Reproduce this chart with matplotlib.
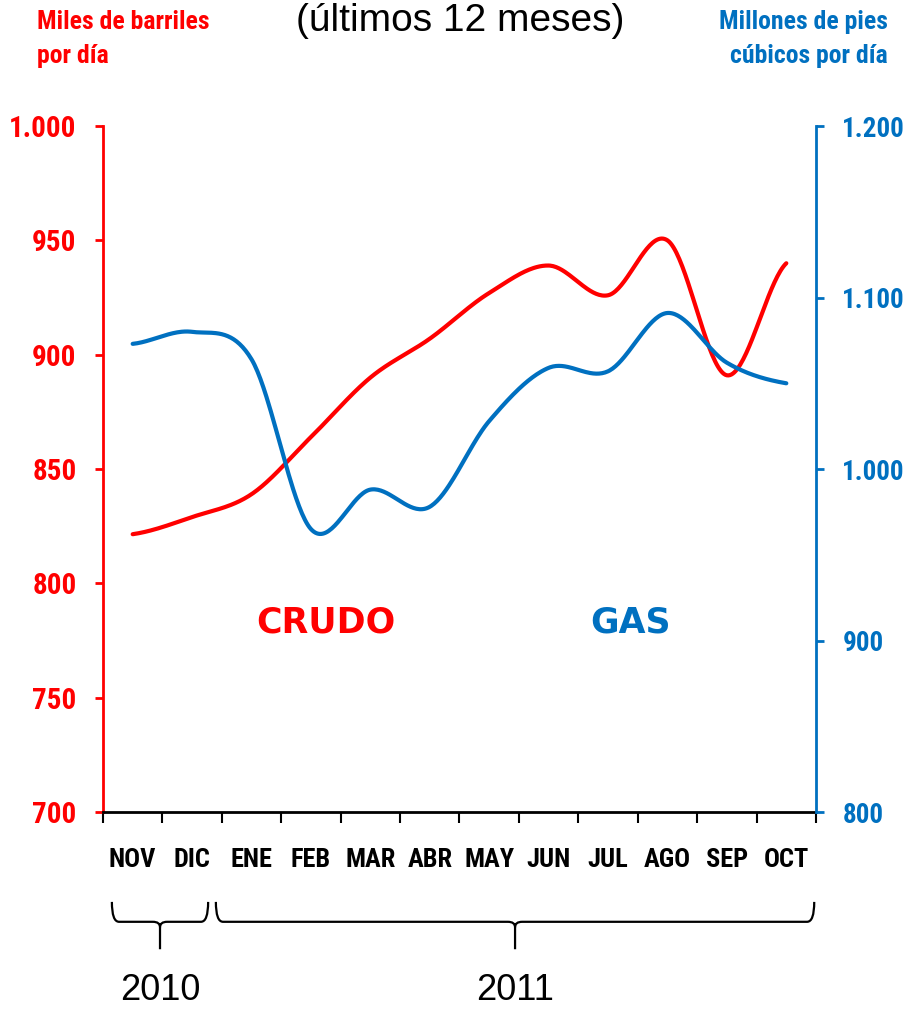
import numpy as np
import matplotlib.pyplot as plt
from matplotlib import font_manager
from matplotlib.path import Path
from matplotlib.patches import PathPatch
from matplotlib.ticker import FuncFormatter, FixedLocator
import matplotlib.transforms as mtransforms

meses = ['NOV', 'DIC', 'ENE', 'FEB', 'MAR', 'ABR', 'MAY', 'JUN', 'JUL', 'AGO', 'SEP', 'OCT']
crudo = [821.5, 829, 839, 864, 890, 907, 927, 939, 926, 950, 891, 940]   # miles de barriles por dia
gas = [1073, 1080, 1064, 965, 988, 978, 1028, 1059, 1057, 1091, 1062, 1050]  # millones de pies cubicos por dia
anios = ['2010', '2011']
meses_por_anio = [2, 10]

ROJO = '#FF0000'
AZUL = '#0070C0'


def fuente_estrecha():
    # busca una fuente estrecha en negrita; si no hay, Liberation Sans un poco mas chica
    fuentes = font_manager.fontManager.ttflist
    nombres = {f.name for f in fuentes}
    for nombre in ['Liberation Sans Narrow', 'Arial Narrow', 'Roboto Condensed',
                   'Open Sans Condensed', 'DejaVu Sans Condensed']:
        if nombre in nombres:
            return {'family': nombre}, 1.0
    for f in fuentes:
        if f.stretch in ('condensed', 'semi-condensed') and f.weight in ('bold', 700):
            return {'family': f.name, 'stretch': f.stretch}, 1.0
    return {'family': 'Liberation Sans'}, 0.87


ESTRECHA, ESC = fuente_estrecha()


def estrecha(size):
    d = dict(ESTRECHA)
    d['size'] = size * ESC
    d['weight'] = 'bold'
    return d


def suavizar(y, n=40):
    # curva tipo Catmull-Rom, como la linea suavizada de Excel
    y = np.asarray(y, float)
    yp = np.concatenate([[y[0]], y, [y[-1]]])
    xs, ys = [], []
    for i in range(len(y) - 1):
        p1, p2 = yp[i + 1], yp[i + 2]
        m1 = (yp[i + 2] - yp[i]) / 2
        m2 = (yp[i + 3] - yp[i + 1]) / 2
        t = np.linspace(0, 1, n, endpoint=False)
        h = ((2*t**3 - 3*t**2 + 1) * p1 + (t**3 - 2*t**2 + t) * m1
             + (-2*t**3 + 3*t**2) * p2 + (t**3 - t**2) * m2)
        xs.append(i + 0.5 + t)
        ys.append(h)
    xs.append([len(y) - 0.5])
    ys.append([y[-1]])
    return np.concatenate(xs), np.concatenate(ys)


def miles(v, pos):
    return f'{v:,.0f}'.replace(',', '.')


fig = plt.figure(figsize=(9.08, 10.10), dpi=100)
ax = fig.add_axes([0.1134, 0.196, 0.7853, 0.6792])
ax2 = ax.twinx()

xc, yc = suavizar(crudo)
xg, yg = suavizar(gas)
ax.plot(xc, yc, color=ROJO, lw=3, solid_capstyle='round', zorder=3)
ax2.plot(xg, yg, color=AZUL, lw=3, solid_capstyle='round', zorder=3)

ax.set_xlim(0, len(meses))
ax.set_ylim(700, 1000)
ax2.set_ylim(800, 1200)
ax.set_yticks(np.arange(700, 1001, 50))
ax2.set_yticks(np.arange(800, 1201, 100))

# ticks en los limites de cada mes, etiquetas al centro
ax.xaxis.set_major_locator(FixedLocator(np.arange(0, len(meses) + 1)))
ax.xaxis.set_minor_locator(FixedLocator(np.arange(len(meses)) + 0.5))
ax.set_xticklabels([])
ax.set_xticklabels(meses, minor=True, fontdict=estrecha(19))
ax.tick_params(axis='x', which='major', direction='out', length=8, width=1.5, color='black')
ax.tick_params(axis='x', which='minor', length=0, pad=26)

for a, col, side, size in [(ax, ROJO, 'left', 21), (ax2, AZUL, 'right', 19.5)]:
    for s in a.spines.values():
        s.set_visible(False)
    a.spines[side].set_visible(True)
    a.spines[side].set_color(col)
    a.spines[side].set_linewidth(2)
    a.tick_params(axis='y', direction='out', length=6, width=2, color=col,
                  labelcolor=col, pad=13)
    a.set_yticklabels([miles(v, None) for v in a.get_yticks()], fontdict=estrecha(size))
ax.spines['bottom'].set_visible(True)
ax.spines['bottom'].set_color('black')
ax.spines['bottom'].set_linewidth(2)

ax.text(3.75, 783, 'CRUDO', color=ROJO, fontsize=25, fontweight='bold',
        ha='center', va='center')
ax.text(8.87, 783, 'GAS', color=AZUL, fontsize=25, fontweight='bold',
        ha='center', va='center')

# llaves con los anios bajo el eje x
trans = mtransforms.blended_transform_factory(ax.transData, ax.transAxes)
y_top, y_mid, y_bot = -0.131, -0.160, -0.200
inicio = 0
gaps = [(0.15, 0.23), (-0.10, 0.03)]
for anio, n, (g0, g1) in zip(anios, meses_por_anio, gaps):
    x0 = inicio + g0
    x1 = inicio + n - g1
    xm = (x0 + x1) / 2
    dx = 0.12
    verts = [(x0, y_top), (x0, y_mid), (x0 + dx, y_mid),
             (xm - dx, y_mid), (xm, y_mid), (xm, y_mid - 0.008),
             (xm, y_bot),
             (xm, y_mid - 0.008), (xm, y_mid), (xm + dx, y_mid),
             (x1 - dx, y_mid), (x1, y_mid), (x1, y_top)]
    codes = [Path.MOVETO, Path.CURVE3, Path.CURVE3,
             Path.LINETO, Path.CURVE3, Path.CURVE3,
             Path.LINETO,
             Path.MOVETO, Path.CURVE3, Path.CURVE3,
             Path.LINETO, Path.CURVE3, Path.CURVE3]
    ax.add_patch(PathPatch(Path(verts, codes), transform=trans, fill=False,
                           lw=1.6, color='black', clip_on=False))
    ax.text(xm, -0.274, anio, transform=trans, fontsize=26,
            family='Liberation Sans', ha='center', va='baseline')
    inicio += n

fig.text(0.507, 0.969, '(últimos 12 meses)', fontsize=28, family='Liberation Sans',
         ha='center', va='baseline')
fig.text(0.041, 0.99, 'Miles de barriles\npor día', color=ROJO,
         fontdict=estrecha(18.5), ha='left', va='top', linespacing=1.5)
fig.text(0.978, 0.99, 'Millones de pies\ncúbicos por día', color=AZUL,
         fontdict=estrecha(18.5), ha='right', va='top', linespacing=1.5,
         multialignment='right')

fig.savefig('out.png', dpi=100)
